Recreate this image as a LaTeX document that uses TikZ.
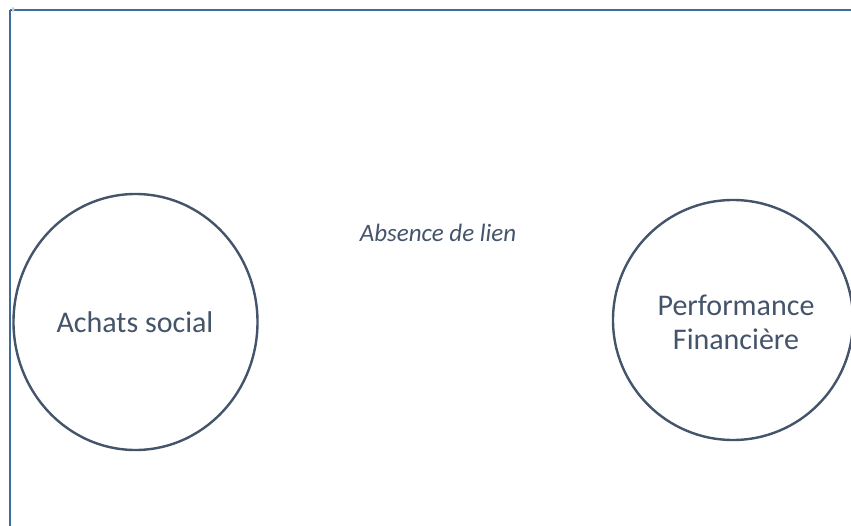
\documentclass[tikz,border=0pt]{standalone}
\usepackage{fontspec}
\setmainfont{Carlito}
\definecolor{framec}{HTML}{3E6B9E}
\definecolor{inkc}{HTML}{44546A}
\begin{document}
\begin{tikzpicture}[x=1pt,y=-1pt,
  lbl/.style={text=inkc, font=\fontsize{30}{34}\selectfont, align=center},
  link/.style={text=inkc, font=\fontsize{25}{29}\selectfont\itshape}]
\useasboundingbox (0,0) rectangle (851,526);
\clip (0,0) rectangle (851,526);
\fill[white] (0,0) rectangle (851,526);
% frame
\draw[framec, line width=1.6pt] (10,10) -- (853,10);
\draw[framec, line width=1.1pt] (10,10) -- (10,528);
% small grey mark
\fill[gray!40] (12,12) arc (90:-90:2.5) -- cycle;
% circles
\draw[draw=inkc, line width=2.4pt] (135.5,322) ellipse [x radius=122, y radius=128];
\node[lbl] (achats) at (135,322) {Achats social};
\draw[draw=inkc, line width=2.4pt] (733,320) ellipse [x radius=120, y radius=120];
\node[lbl] (perf) at (736,322) {Performance\\Financière};
\node[link] (lien) at (438,233) {Absence de lien};
\end{tikzpicture}
\end{document}
